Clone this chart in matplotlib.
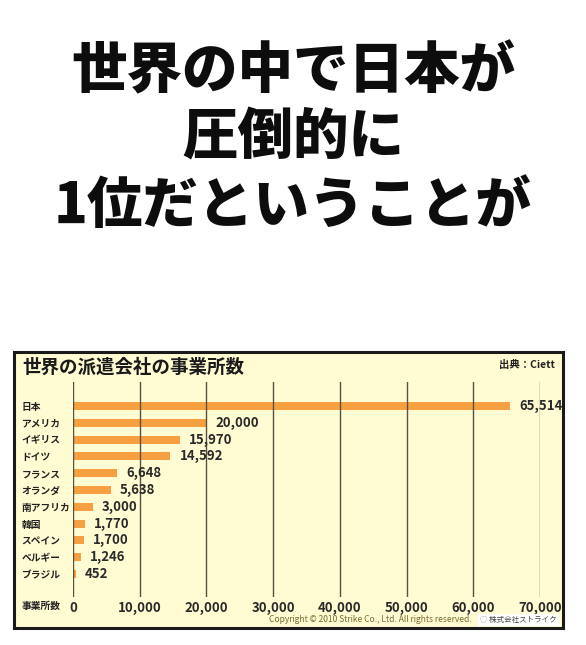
import matplotlib
matplotlib.use("Agg")
import matplotlib.pyplot as plt
from matplotlib.patches import Rectangle

plt.rcParams['font.family'] = ['Noto Sans CJK JP', 'DejaVu Sans']

# data
title_lines = ['世界の中で日本が', '圧倒的に', '1位だということが']
countries = ['日本', 'アメリカ', 'イギリス', 'ドイツ', 'フランス', 'オランダ',
             '南アフリカ', '韓国', 'スペイン', 'ベルギー', 'ブラジル']
offices = [65514, 20000, 15970, 14592, 6648, 5638, 3000, 1770, 1700, 1246, 452]
xticks = [0, 10000, 20000, 30000, 40000, 50000, 60000, 70000]

W, H = 586, 645
fig = plt.figure(figsize=(W / 100, H / 100), dpi=100)
fig.patch.set_facecolor('white')


def fx(px):
    return px / W


def fy(py):
    return 1 - py / H


# big heading
for text, ypx in zip(title_lines, [72, 138, 206]):
    fig.text(0.5, fy(ypx), text, ha='center', va='center', fontsize=40,
             weight=900, color='#0d0d0d')

# yellow panel with black frame
panel = Rectangle((fx(14), fy(628)), fx(563) - fx(14), fy(352) - fy(628),
                  transform=fig.transFigure, facecolor='#FFFBD3',
                  edgecolor='#1a1a1a', lw=2.2, zorder=-1)
fig.add_artist(panel)

fig.text(fx(22), fy(367), '世界の派遣会社の事業所数', ha='left', va='center',
         fontsize=13.3, weight='bold', color='#1a1a1a')
fig.text(fx(555), fy(365), '出典：Ciett', ha='right', va='center',
         fontsize=7.5, weight='bold', color='#222222')
fig.text(fx(22), fy(606), '事業所数', ha='left', va='center',
         fontsize=7, weight='bold', color='#222222')
fig.text(fx(472), fy(620), 'Copyright © 2010 Strike Co., Ltd. All rights reserved.',
         ha='right', va='center', fontsize=6.1, color='#7a6a30')
fig.text(fx(557), fy(620), '◌ 株式会社ストライク', ha='right', va='center',
         fontsize=5.4, color='#444444',
         bbox=dict(boxstyle='square,pad=0.3', facecolor='white', edgecolor='none'))

# chart
ax = fig.add_axes([fx(73), fy(597), fx(540) - fx(73), fy(382) - fy(597)])
ax.set_facecolor('none')
ypos = list(range(len(countries)))
ax.barh(ypos, offices, height=0.48, color='#F7A041', zorder=1)

for y, v in zip(ypos, offices):
    ax.annotate(f'{v:,}', (v, y), xytext=(6.5, 0), textcoords='offset points',
                ha='left', va='center', fontsize=9.5, weight='bold',
                color='#2a2a2a')

ax.set_xlim(0, 70000)
ax.set_ylim(11.37, -1.43)
ax.set_xticks(xticks)
ax.set_xticklabels([f'{t:,}' for t in xticks], fontsize=9.5, weight='bold',
                   color='#2a2a2a')
ax.set_yticks(ypos)
ax.set_yticklabels(countries, fontsize=7, weight='bold', color='#222222')
for lab in ax.get_yticklabels():
    lab.set_ha('left')
ax.tick_params(axis='both', length=0)
ax.tick_params(axis='x', pad=3)
ax.tick_params(axis='y', pad=37)
ax.grid(axis='x', color='#5a5040', lw=1)
ax.grid(axis='y', visible=False)
ax.set_axisbelow(False)
for s in ax.spines.values():
    s.set_visible(False)

fig.savefig('out.png', dpi=100)
